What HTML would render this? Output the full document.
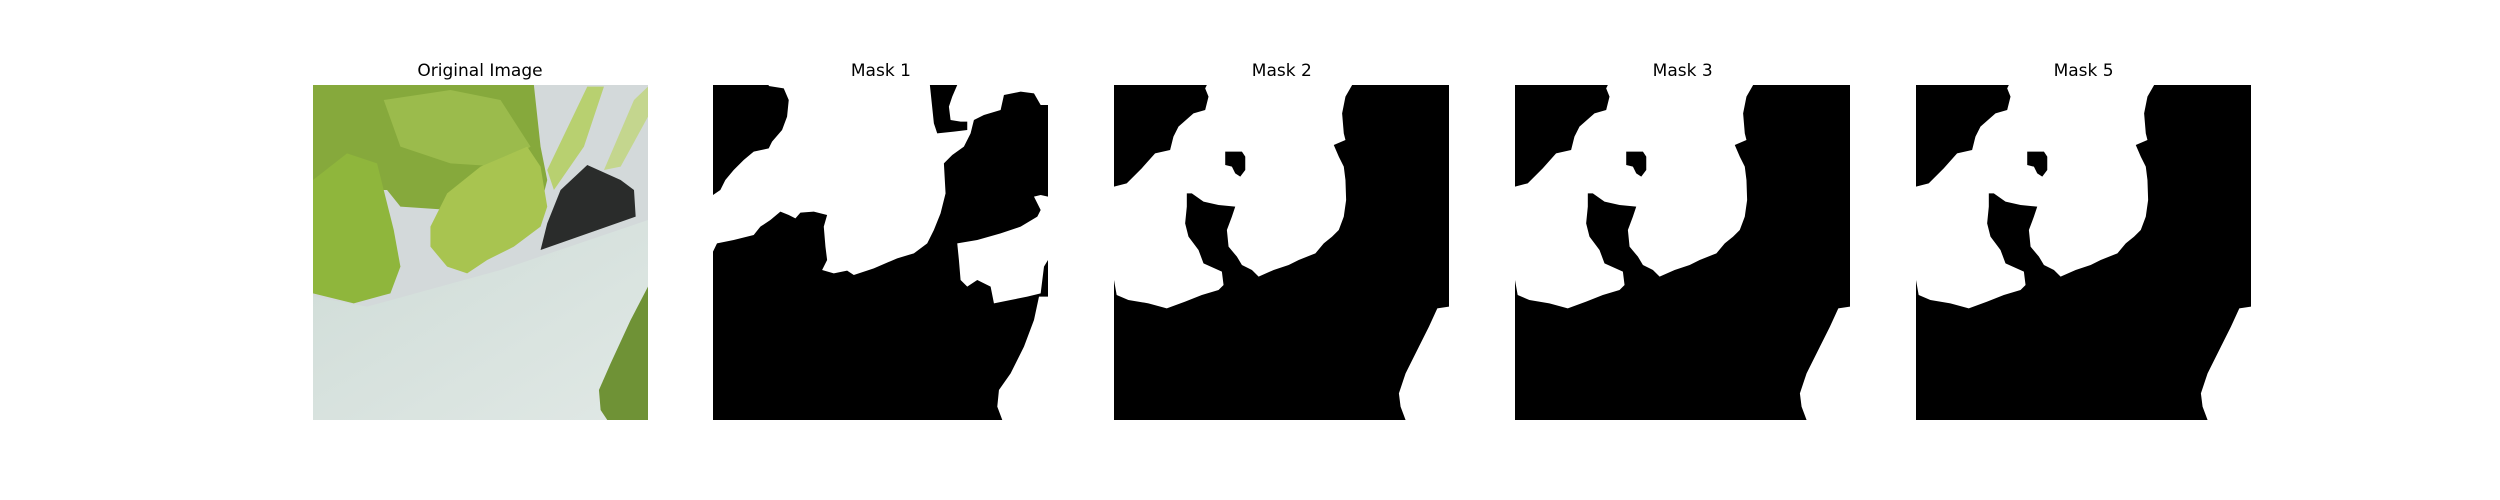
<!DOCTYPE html>
<html><head><meta charset="utf-8"><style>
body{margin:0;background:#fff;}
#fig{position:relative;width:2500px;height:500px;background:#fff;overflow:hidden;font-family:"DejaVu Sans","Liberation Sans",sans-serif;}
.panel{position:absolute;top:85px;width:335px;height:335px;}
.panel svg{display:block;width:335px;height:335px;}
.title{position:absolute;top:62px;width:335px;text-align:center;font-size:17px;color:#000;line-height:19px;}
</style></head><body>
<div id="fig">

<div class="title" style="left:312.5px">Original Image</div>
<div class="panel" style="left:312.5px">
<svg viewBox="38 15 1004 1005" preserveAspectRatio="none">
<defs><linearGradient id="pot" x1="0" y1="0" x2="1" y2="1"><stop offset="0" stop-color="#cfdcd7"/><stop offset="1" stop-color="#e0e8e5"/></linearGradient></defs>
<rect x="38" y="15" width="1004" height="1005" fill="#d3d9da"/>
<polygon points="38,15 700,15 720,200 740,300 720,380 650,400 450,390 300,380 260,330 38,330" fill="#86a93c"/>
<polygon points="250,60 450,30 600,60 690,200 600,260 450,250 300,200" fill="#9bbb4c"/>
<polygon points="740,270 860,20 910,20 850,200 760,330" fill="#b8d070"/>
<polygon points="1000,60 1042,20 1042,110 960,260 910,270" fill="#c4d68e"/>
<polygon points="38,300 140,220 230,250 280,450 300,560 270,640 160,670 38,640" fill="#8fb63c"/>
<polygon points="390,440 440,340 540,260 680,200 720,260 740,380 720,440 640,500 560,540 500,580 440,560 390,500" fill="#a8c450"/>
<polygon points="780,330 860,255 960,300 1000,330 1005,410 720,510 740,430" fill="#2a2c2b"/>
<polygon points="38,650 200,680 600,570 1042,420 1042,1020 38,1020" fill="url(#pot)"/>
<polygon points="1042,620 990,720 930,850 895,930 900,990 920,1020 1042,1020" fill="#6f9236"/>
</svg></div>

<div class="title" style="left:713.4px">Mask 1</div>
<div class="panel" style="left:713.4px">
<svg viewBox="38 15 1004 1005" preserveAspectRatio="none">
<rect x="38" y="15" width="1004" height="1005" fill="#000"/>
<polygon fill="#fff" points="205,15 688,15 700,130 710,160 760,155 800,150 800,125 780,125 750,120 745,80 755,50 770,15 1042,15 1042,75 1020,75 1000,40 960,35 910,45 900,90 850,105 820,120 810,160 790,200 755,225 730,250 735,340 720,400 700,450 680,490 640,520 590,535 520,565 460,585 440,572 400,580 365,570 380,540 375,500 370,440 380,405 340,395 300,398 285,415 265,405 240,395 210,420 180,440 160,465 100,480 50,490 38,515 38,345 60,330 75,300 100,270 130,240 160,215 205,205 215,185 245,150 260,110 265,60 250,25 205,18"/>
<polygon fill="#fff" points="770,490 830,480 900,460 960,440 1010,410 1020,390 1000,350 1020,345 1042,350 1042,540 1030,560 1020,640 980,650 930,660 880,670 870,620 830,600 800,620 780,600 775,540"/>
<polygon fill="#fff" points="1015,650 1042,650 1042,1020 905,1020 890,980 895,930 930,880 970,800 1000,720"/>
</svg></div>

<div class="title" style="left:1114.3px">Mask 2</div>
<div class="panel" style="left:1114.3px">
<svg viewBox="27 15 1003 1005" preserveAspectRatio="none">
<rect x="27" y="15" width="1003" height="1005" fill="#000"/>
<polygon fill="#fff" points="305,15 740,15 720,50 710,100 715,160 720,180 685,195 700,230 715,260 720,300 722,360 715,410 700,450 680,470 655,490 630,520 580,540 550,555 505,570 460,590 440,570 410,555 395,530 370,500 365,450 380,410 390,380 340,375 295,365 260,340 245,340 245,380 240,430 250,470 280,510 295,550 350,575 355,615 340,630 290,645 240,665 185,685 130,670 70,660 35,645 27,600 27,320 65,310 110,265 150,220 195,210 205,170 220,140 265,100 300,90 310,50 300,25"/>
<polygon fill="#000" points="360,215 410,215 420,230 420,270 405,290 390,280 380,260 360,255"/>
<polygon fill="#fff" points="995,685 1030,680 1030,1020 900,1020 885,980 880,940 900,880 940,800 970,740"/>
</svg></div>

<div class="title" style="left:1515.2px">Mask 3</div>
<div class="panel" style="left:1515.2px">
<svg viewBox="27 15 1003 1005" preserveAspectRatio="none">
<rect x="27" y="15" width="1003" height="1005" fill="#000"/>
<polygon fill="#fff" points="305,15 740,15 720,50 710,100 715,160 720,180 685,195 700,230 715,260 720,300 722,360 715,410 700,450 680,470 655,490 630,520 580,540 550,555 505,570 460,590 440,570 410,555 395,530 370,500 365,450 380,410 390,380 340,375 295,365 260,340 245,340 245,380 240,430 250,470 280,510 295,550 350,575 355,615 340,630 290,645 240,665 185,685 130,670 70,660 35,645 27,600 27,320 65,310 110,265 150,220 195,210 205,170 220,140 265,100 300,90 310,50 300,25"/>
<polygon fill="#000" points="360,215 410,215 420,230 420,270 405,290 390,280 380,260 360,255"/>
<polygon fill="#fff" points="995,685 1030,680 1030,1020 900,1020 885,980 880,940 900,880 940,800 970,740"/>
</svg></div>

<div class="title" style="left:1916.1px">Mask 5</div>
<div class="panel" style="left:1916.1px">
<svg viewBox="27 15 1003 1005" preserveAspectRatio="none">
<rect x="27" y="15" width="1003" height="1005" fill="#000"/>
<polygon fill="#fff" points="305,15 740,15 720,50 710,100 715,160 720,180 685,195 700,230 715,260 720,300 722,360 715,410 700,450 680,470 655,490 630,520 580,540 550,555 505,570 460,590 440,570 410,555 395,530 370,500 365,450 380,410 390,380 340,375 295,365 260,340 245,340 245,380 240,430 250,470 280,510 295,550 350,575 355,615 340,630 290,645 240,665 185,685 130,670 70,660 35,645 27,600 27,320 65,310 110,265 150,220 195,210 205,170 220,140 265,100 300,90 310,50 300,25"/>
<polygon fill="#000" points="360,215 410,215 420,230 420,270 405,290 390,280 380,260 360,255"/>
<polygon fill="#fff" points="995,685 1030,680 1030,1020 900,1020 885,980 880,940 900,880 940,800 970,740"/>
</svg></div>

</div>
</body></html>
